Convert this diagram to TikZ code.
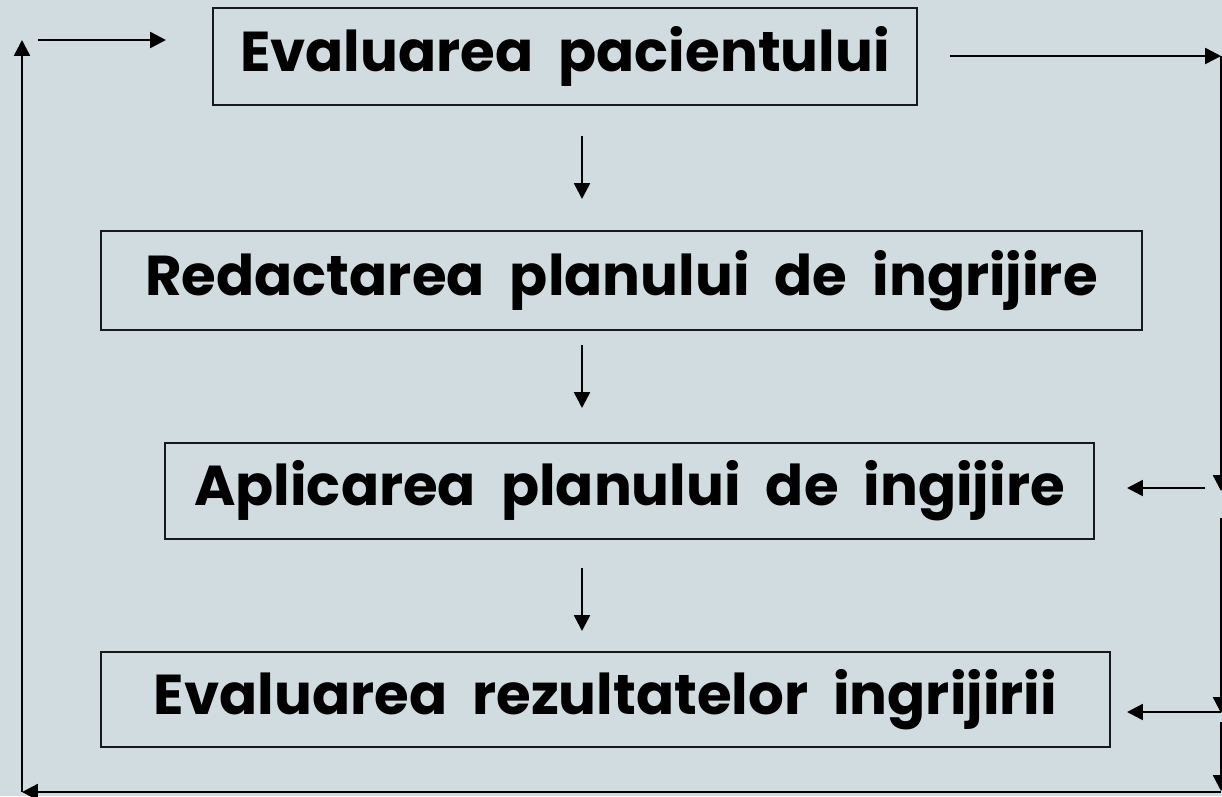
\documentclass[tikz,border=0pt]{standalone}
\usepackage{fontspec}
\setmainfont{Poppins}[WordSpace=2.1]
\usepackage{xcolor}
\usepackage{tikz}
\usetikzlibrary{arrows.meta,positioning,calc}

\definecolor{slatebg}{RGB}{208,220,224}

\begin{document}
\begin{tikzpicture}[
  x=0.02cm, y=-0.02cm,
  every node/.style={font=\fontsize{32}{38}\selectfont\bfseries},
  stagebox/.style={draw=black!90, line width=1.2pt, inner sep=0pt, align=center},
  flow/.style={line width=1.4pt, -{Triangle[length=9pt, width=9pt]}},
]

%% ── Canvas ─────────────────────────────────────────────────────────────────
\fill[slatebg] (0,0) rectangle (1222,796);
\useasboundingbox (0,0) rectangle (1222,796);

%% ── Stages of the care cycle ───────────────────────────────────────────────
\node[stagebox, minimum width=14.08cm, minimum height=1.94cm] (eval) at (565, 56.5)
  {Evaluarea pacientului};
\node[stagebox, minimum width=20.82cm, minimum height=1.98cm] (plan) at (621.5, 280.5)
  {Redactarea planului de ingrijire};
\node[stagebox, minimum width=18.58cm, minimum height=1.92cm] (apply) at (629.5, 491)
  {Aplicarea planului de ingijire};
\node[stagebox, minimum width=20.18cm, minimum height=1.90cm] (result) at (605.5, 699.5)
  {Evaluarea rezultatelor ingrijirii};

%% ── Free ends of the connectors ────────────────────────────────────────────
\coordinate (d1a) at (582, 136);  \coordinate (d1b) at (582, 199);
\coordinate (d2a) at (582, 345);  \coordinate (d2b) at (582, 408);
\coordinate (d3a) at (582, 568);  \coordinate (d3b) at (582, 631);

\coordinate (tr0) at (950, 56);   \coordinate (tr1) at (1221, 56);
\coordinate (rs1) at (1221, 491); \coordinate (rs2) at (1221, 518);
\coordinate (rs3) at (1221, 713); \coordinate (rs4) at (1221, 722);
\coordinate (rs5) at (1221, 791);
\coordinate (ra0) at (1205, 488); \coordinate (ra1) at (1127, 488);
\coordinate (rb1) at (1127, 712); \coordinate (rb0) at (1221, 712);

\coordinate (br) at (1221, 792);  \coordinate (bl) at (22, 792);
\coordinate (tl) at (22, 40);
\coordinate (ta0) at (38, 40);    \coordinate (ta1) at (166, 40);

%% ── Main flow, top to bottom ───────────────────────────────────────────────
\draw[flow] (d1a) -- (d1b);
\draw[flow] (d2a) -- (d2b);
\draw[flow] (d3a) -- (d3b);

%% ── Right-hand return rail ─────────────────────────────────────────────────
\draw[flow] (tr0) -- (tr1);
\draw[flow] (tr1) -- (rs1);
\draw[flow] (rs2) -- (rs3);
\draw[flow] (rs4) -- (rs5);
\draw[flow] (ra0) -- (ra1);
\draw[flow] (rb0) -- (rb1);

%% ── Bottom and left loop back to the start ─────────────────────────────────
\draw[flow] (br) -- (bl);
\draw[flow] (bl) -- (tl);
\draw[flow] (ta0) -- (ta1);

\end{tikzpicture}
\end{document}
